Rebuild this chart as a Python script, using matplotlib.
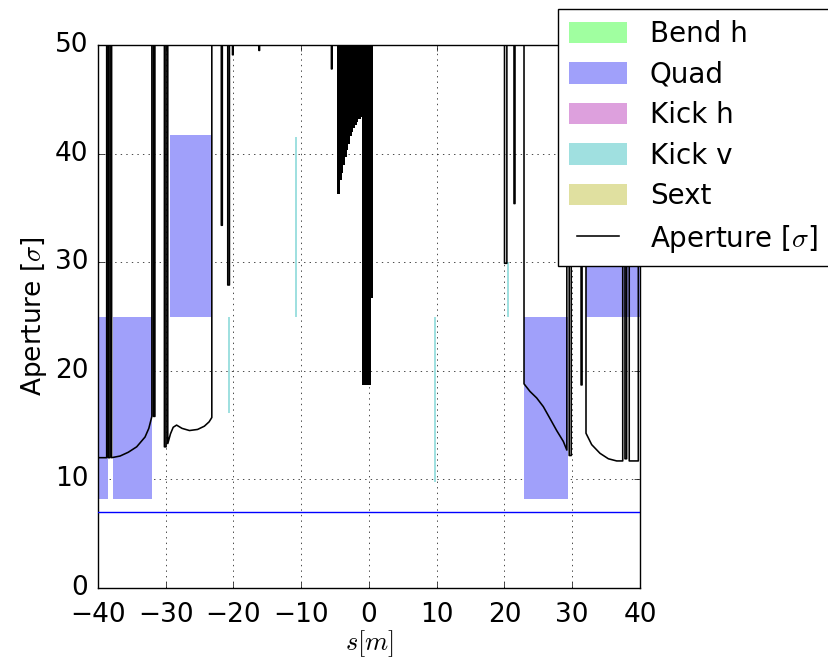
import numpy as np
import matplotlib
matplotlib.use('Agg')
import matplotlib.pyplot as plt
from matplotlib.patches import Patch
from matplotlib.lines import Line2D

plt.style.use('classic')
plt.rcParams['figure.facecolor'] = 'white'
plt.rcParams['savefig.facecolor'] = 'white'

HIGH = 100.0  # drift regions: aperture far above the plotted range

# ---- aperture line (s in m, aperture in sigma)
ap_s = [-40.5, -38.72, -38.72, -38.48, -38.48, -38.23, -38.23, -37.99, -37.99,
        -36.75, -35.53, -34.29, -33.06, -32.5, -32.05, -32.05,
        -31.8, -31.8, -31.6, -31.6,
        -30.2, -30.2, -29.95, -29.95,
        -29.7, -29.7, -29.3, -28.9, -28.4, -27.6, -26.5, -25.3, -24.3, -23.6, -23.2, -23.2,
        -21.8, -21.8, -21.65, -21.65,
        -20.85, -20.85, -20.6, -20.6,
        -20.15, -20.15, -20.05, -20.05,
        -16.25, -16.25, -16.15, -16.15,
        -5.55, -5.55, -5.45, -5.45,
        20.0, 20.0, 20.35, 20.35,
        21.4, 21.4, 21.55, 21.55,
        22.88, 22.88, 23.76, 24.75, 25.73, 26.72, 27.70, 28.68, 29.2, 29.2,
        29.55, 29.55, 29.85, 29.85,
        31.3, 31.3, 31.45, 31.45,
        32.03, 32.03, 32.87, 34.10, 35.33, 36.56, 37.45, 37.45,
        37.78, 37.78, 38.03, 38.03,
        38.41, 38.41, 39.75, 39.75]
ap_val = [12.0, 12.0, HIGH, HIGH, 12.0, 12.0, HIGH, HIGH, 12.0,
          12.15, 12.5, 13.0, 13.9, 14.7, 15.8, HIGH,
          HIGH, 15.8, 15.8, HIGH,
          HIGH, 13.0, 13.0, HIGH,
          HIGH, 13.3, 14.2, 14.8, 15.0, 14.7, 14.5, 14.6, 14.9, 15.3, 15.7, HIGH,
          HIGH, 33.4, 33.4, HIGH,
          HIGH, 27.9, 27.9, HIGH,
          HIGH, 49.1, 49.1, HIGH,
          HIGH, 49.5, 49.5, HIGH,
          HIGH, 47.8, 47.8, HIGH,
          HIGH, 29.9, 29.9, HIGH,
          HIGH, 35.4, 35.4, HIGH,
          HIGH, 18.8, 18.1, 17.5, 16.7, 15.6, 14.5, 13.5, 12.7, HIGH,
          HIGH, 12.2, 12.2, HIGH,
          HIGH, 18.7, 18.7, HIGH,
          HIGH, 14.25, 13.2, 12.4, 11.9, 11.7, 11.7, HIGH,
          HIGH, 11.9, 11.9, HIGH,
          HIGH, 11.7, 11.7, HIGH]

# dense aperture oscillations around the IP (lower envelope, step edges)
core_s = [-4.68, -4.28, -4.03, -3.79, -3.54, -3.30, -3.05, -2.80, -2.55,
          -2.31, -2.07, -1.82, -1.58, -1.18, -0.99, 0.30, 0.64]
core_lo = [36.3, 37.6, 38.2, 38.95, 39.7, 40.3, 40.9, 41.6, 42.0,
           42.4, 42.6, 42.9, 43.2, 43.4, 18.7, 26.7, 26.7]

# ---- elements
quad_start = [-40.5, -37.74, -29.37, 22.93, 31.98]
quad_end = [-38.57, -32.08, -23.22, 29.33, 40.5]
quad_lo = [8.2, 8.2, 25.0, 8.2, 25.0]
quad_hi = [25.0, 25.0, 41.7, 25.0, 41.7]

kickv_s = [-20.62, -10.77, 9.74, 20.47]
kickv_lo = [16.1, 25.0, 9.8, 25.0]
kickv_hi = [25.0, 41.5, 25.0, 30.0]

beam_stay_clear = 7.0

labels = ['Bend h', 'Quad', 'Kick h', 'Kick v', 'Sext']
colors = ['#a0ffa0', '#a0a0fa', '#dda0dd', '#a0e0e0', '#e0e0a0']

fig = plt.figure(figsize=(8.29, 6.64), dpi=100)
ax = fig.add_axes([98/829, 76/664, 542/829, 543/664])
ax.set_axisbelow(True)

qs = np.array(quad_start); qe = np.array(quad_end)
ql = np.array(quad_lo); qh = np.array(quad_hi)
ax.bar(qs, qh - ql, width=qe - qs, bottom=ql, align='edge',
       color=colors[1], lw=0, zorder=1)

kl = np.array(kickv_lo); kh = np.array(kickv_hi)
ax.bar(kickv_s, kh - kl, width=0.3, bottom=kl, align='center',
       color=colors[3], lw=0, zorder=1)

ax.plot(ap_s, ap_val, 'k-', lw=1.15, zorder=3)
ax.fill_between(core_s, core_lo, HIGH, step='post', color='k', lw=0, zorder=3)
ax.axhline(beam_stay_clear, color='b', lw=1.0, zorder=3)

ax.set_xlim(-40, 40)
ax.set_ylim(0, 50)
ax.set_xticks(np.arange(-40, 41, 10))
ax.set_yticks(np.arange(0, 51, 10))
ax.tick_params(labelsize=19)
ax.tick_params(axis='x', pad=10)
ax.tick_params(axis='y', pad=7)
ax.grid(True)
ax.set_xlabel('$s[m]$', fontsize=19, labelpad=0)
ax.set_ylabel(r'Aperture [$\sigma$]', fontsize=19, labelpad=4)

handles = [Patch(facecolor=c, edgecolor='none') for c in colors]
handles.append(Line2D([], [], color='k', lw=1.15))
leg = ax.legend(handles, labels + [r'Aperture [$\sigma$]'],
                loc='upper left', bbox_to_anchor=(558/829, 1 - 9/664),
                bbox_transform=fig.transFigure, fontsize=20,
                handlelength=2.1, handleheight=0.8, labelspacing=0.45,
                borderaxespad=0)
leg.set_zorder(10)

fig.savefig('out.png', dpi=100)
